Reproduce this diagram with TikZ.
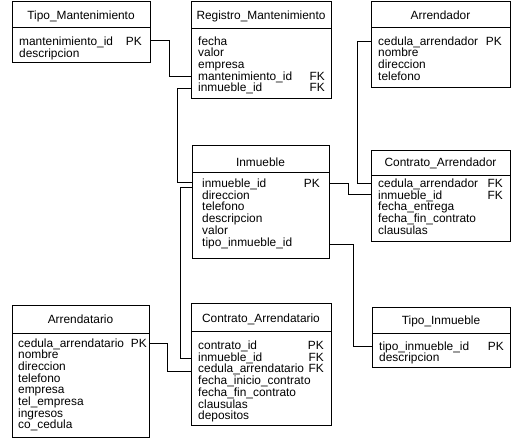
\documentclass[tikz,border=0pt]{standalone}
\usepackage{fontspec}
\setmainfont{Liberation Sans}
\newcommand{\erfont}{\fontsize{11.9}{13}\selectfont}
\begin{document}
\begin{tikzpicture}[x=1pt,y=-1pt,
  tbl/.style={draw=black, line width=0.8pt, fill=white, inner sep=0pt, anchor=north west},
  fld/.style={anchor=base west, inner sep=0pt, font=\erfont},
  keyf/.style={anchor=base east, inner sep=0pt, font=\erfont},
  hdr/.style={anchor=base, inner sep=0pt, font=\erfont},
  sep/.style={draw=black, line width=0.8pt},
  link/.style={draw=black, line width=0.8pt}]
\useasboundingbox[fill=white] (0,0) rectangle (513,439);

% ---------- Tipo_Mantenimiento
\node[tbl, minimum width=138pt, minimum height=61pt] (tm) at (12,1) {};
\draw[sep] (12,27) -- (150,27);
\node[hdr] (tmh) at (81,19) {Tipo\_Mantenimiento};
\node[fld] (tm1) at (19,45) {mantenimiento\_id};
\node[keyf] (tm1k) at (142,45) {PK};
\node[fld] (tm2) at (19,57) {descripcion};
\coordinate (tm1y) at (0,40);

% ---------- Registro_Mantenimiento
\node[tbl, minimum width=140pt, minimum height=97pt] (rm) at (191,1) {};
\draw[sep] (191,28) -- (331,28);
\node[hdr] (rmh) at (261,19) {Registro\_Mantenimiento};
\node[fld] (rm1) at (198,45) {fecha};
\node[fld] (rm2) at (198,56.7) {valor};
\node[fld] (rm3) at (198,68.4) {empresa};
\node[fld] (rm4) at (198,80.1) {mantenimiento\_id};
\node[keyf] (rm4k) at (325,80.1) {FK};
\node[fld] (rm5) at (198,91.8) {inmueble\_id};
\node[keyf] (rm5k) at (325,91.8) {FK};
\coordinate (rm4y) at (0,76);
\coordinate (rm5y) at (0,88);

% ---------- Arrendador
\node[tbl, minimum width=139pt, minimum height=86pt] (ar) at (371,1) {};
\draw[sep] (371,27) -- (510,27);
\node[hdr] (arh) at (440.5,19) {Arrendador};
\node[fld] (ar1) at (378,45) {cedula\_arrendador};
\node[keyf] (ar1k) at (502,45) {PK};
\node[fld] (ar2) at (378,56.7) {nombre};
\node[fld] (ar3) at (378,68.4) {direccion};
\node[fld] (ar4) at (378,80.1) {telefono};
\coordinate (ar1y) at (0,41);

% ---------- Inmueble
\node[tbl, minimum width=137pt, minimum height=113pt] (in) at (192,145) {};
\draw[sep] (192,172) -- (329,172);
\node[hdr] (inh) at (260.5,166) {Inmueble};
\node[fld] (in1) at (202,187.5) {inmueble\_id};
\node[keyf] (in1k) at (320,187.5) {PK};
\node[fld] (in2) at (202,199.2) {direccion};
\node[fld] (in3) at (202,210.9) {telefono};
\node[fld] (in4) at (202,222.6) {descripcion};
\node[fld] (in5) at (202,234.3) {valor};
\node[fld] (in6) at (202,246) {tipo\_inmueble\_id};
\coordinate (inAy) at (0,182);
\coordinate (inBy) at (0,187);
\coordinate (in1y) at (0,183);
\coordinate (in6y) at (0,244);

% ---------- Contrato_Arrendador
\node[tbl, minimum width=139pt, minimum height=91pt] (ca) at (371,150) {};
\draw[sep] (371,175) -- (510,175);
\node[hdr] (cah) at (440.5,166) {Contrato\_Arrendador};
\node[fld] (ca1) at (378,187.5) {cedula\_arrendador};
\node[keyf] (ca1k) at (503,187.5) {FK};
\node[fld] (ca2) at (378,199.2) {inmueble\_id};
\node[keyf] (ca2k) at (503,199.2) {FK};
\node[fld] (ca3) at (378,210.9) {fecha\_entrega};
\node[fld] (ca4) at (378,222.6) {fecha\_fin\_contrato};
\node[fld] (ca5) at (378,234.3) {clausulas};
\coordinate (ca1y) at (0,183);
\coordinate (ca2y) at (0,194);

% ---------- Arrendatario
\node[tbl, minimum width=137pt, minimum height=132pt] (at) at (12,305) {};
\draw[sep] (12,333) -- (149,333);
\node[hdr] (ath) at (80.5,323) {Arrendatario};
\node[fld] (at1) at (18,347) {cedula\_arrendatario};
\node[keyf] (at1k) at (147,347) {PK};
\node[fld] (at2) at (18,358.7) {nombre};
\node[fld] (at3) at (18,370.4) {direccion};
\node[fld] (at4) at (18,382.1) {telefono};
\node[fld] (at5) at (18,393.8) {empresa};
\node[fld] (at6) at (18,405.5) {tel\_empresa};
\node[fld] (at7) at (18,417.2) {ingresos};
\node[fld] (at8) at (18,428.9) {co\_cedula};
\coordinate (at1y) at (0,343);

% ---------- Contrato_Arrendatario
\node[tbl, minimum width=140pt, minimum height=122pt] (cat) at (191,303) {};
\draw[sep] (191,331) -- (331,331);
\node[hdr] (cath) at (261,322) {Contrato\_Arrendatario};
\node[fld] (cat1) at (198,349.5) {contrato\_id};
\node[keyf] (cat1k) at (324,349.5) {PK};
\node[fld] (cat2) at (198,361.2) {inmueble\_id};
\node[keyf] (cat2k) at (324,361.2) {FK};
\node[fld] (cat3) at (198,372.9) {cedula\_arrendatario};
\node[keyf] (cat3k) at (324,372.9) {FK};
\node[fld] (cat4) at (198,384.6) {fecha\_inicio\_contrato};
\node[fld] (cat5) at (198,396.3) {fecha\_fin\_contrato};
\node[fld] (cat6) at (198,408) {clausulas};
\node[fld] (cat7) at (198,419.7) {depositos};
\coordinate (cat2y) at (0,358);
\coordinate (cat3y) at (0,371);

% ---------- Tipo_Inmueble
\node[tbl, minimum width=138pt, minimum height=60pt] (ti) at (372,307) {};
\draw[sep] (372,333) -- (510,333);
\node[hdr] (tih) at (441,324) {Tipo\_Inmueble};
\node[fld] (ti1) at (379,350) {tipo\_inmueble\_id};
\node[keyf] (ti1k) at (504,350) {PK};
\node[fld] (ti2) at (379,361.7) {descripcion};
\coordinate (ti1y) at (0,346);

% ---------- connectors
\draw[link] (tm.east |- tm1y) -- ++(19,0) |- (rm.west |- rm4y);
\draw[link] (rm.west |- rm5y) -- ++(-14,0) |- (in.west |- inAy);
\draw[link] (in.west |- inBy) -- ++(-12,0) |- (cat.west |- cat2y);
\draw[link] (ar.west |- ar1y) -- ++(-14,0) |- (ca.west |- ca1y);
\draw[link] (in.east |- in1y) -- ++(19,0) |- (ca.west |- ca2y);
\draw[link] (in.east |- in6y) -- ++(24,0) |- (ti.west |- ti1y);
\draw[link] (at.east |- at1y) -- ++(17.5,0) |- (cat.west |- cat3y);
\end{tikzpicture}
\end{document}
